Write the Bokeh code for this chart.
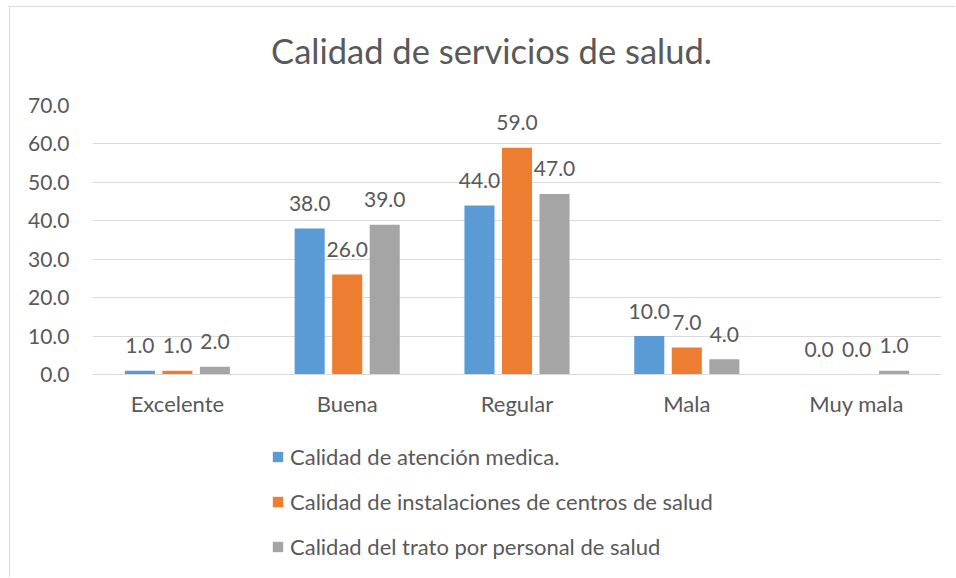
from bokeh.plotting import figure
from bokeh.layouts import column
from bokeh.models import (ColumnDataSource, FactorRange, Range1d, FixedTicker,
                          NumeralTickFormatter, Legend, LegendItem, Label)
from bokeh.transform import dodge
from bokeh.core.properties import value
from bokeh.embed import file_html
from bokeh.resources import INLINE

categories = ["Excelente", "Buena", "Regular", "Mala", "Muy mala"]
atencion = [1.0, 38.0, 44.0, 10.0, 0.0]
instalaciones = [1.0, 26.0, 59.0, 7.0, 0.0]
trato = [2.0, 39.0, 47.0, 4.0, 1.0]
series_names = ["Calidad de atención medica.",
                "Calidad de instalaciones de centros de salud",
                "Calidad del trato por personal de salud"]
colors = ["#5B9BD5", "#ED7D31", "#A5A5A5"]
y_ticks = [0, 10, 20, 30, 40, 50, 60, 70]
title_text = "Calidad de servicios de salud."

FONT = "Lato"
TXT = "#595959"
LBL_SIZE = "22px"
NUM_SIZE = "21px"
W = 945


def blank_fig(h, x_range, y_range):
    f = figure(width=W, height=h, x_range=x_range, y_range=y_range,
               output_backend="svg", toolbar_location=None,
               x_axis_location=None, y_axis_location=None,
               min_border_left=82, min_border_right=14, min_border_top=0, min_border_bottom=0)
    f.xgrid.visible = False
    f.ygrid.visible = False
    f.outline_line_color = None
    return f


sources = [ColumnDataSource(dict(cat=categories, val=vals, lbl=[f"{v:.1f}" for v in vals]))
           for vals in (atencion, instalaciones, trato)]

# ---- header with title ----
head = blank_fig(83, Range1d(0, 1), Range1d(0, 1))
head.add_layout(Label(x=399, y=40, x_units="screen", y_units="screen", text=title_text,
                      text_align="center", text_baseline="middle", text_font=FONT,
                      text_font_size="34.5px", text_color=TXT))

# ---- main chart ----
p = figure(x_range=FactorRange(*categories, range_padding=0),
           y_range=Range1d(0, 70),
           frame_width=849, frame_height=269,
           output_backend="svg", toolbar_location=None,
           min_border_left=82, min_border_right=14,
           min_border_top=15, min_border_bottom=50)
p.outline_line_color = None

offsets = [-0.221, 0.0, 0.221]
bar_w = 0.177
for src, col, off in zip(sources, colors, offsets):
    p.vbar(x=dodge("cat", off, range=p.x_range), top="val", width=bar_w, source=src,
           fill_color=col, line_color=None)
    p.text(x=dodge("cat", off, range=p.x_range), y="val", text="lbl", source=src,
           text_align="center", text_baseline="alphabetic", y_offset=-25,
           text_font=value(FONT), text_font_size=NUM_SIZE, text_color=TXT)

p.yaxis.ticker = FixedTicker(ticks=y_ticks)
p.yaxis.formatter = NumeralTickFormatter(format="0.0")
p.yaxis.axis_line_color = None
p.yaxis.major_tick_line_color = None
p.yaxis.minor_tick_line_color = None
p.yaxis.major_label_standoff = 17
p.yaxis.major_label_text_font = FONT
p.yaxis.major_label_text_font_size = NUM_SIZE
p.yaxis.major_label_text_color = TXT

p.xaxis.axis_line_color = "#D9D9D9"
p.xaxis.axis_line_width = 1
p.xaxis.major_tick_line_color = None
p.xaxis.minor_tick_line_color = None
p.xaxis.major_label_standoff = 9
p.xaxis.major_label_text_font = FONT
p.xaxis.major_label_text_font_size = LBL_SIZE
p.xaxis.major_label_text_color = TXT

p.xgrid.grid_line_color = None
p.ygrid.grid_line_color = "#D9D9D9"
p.ygrid.grid_line_width = 1

# ---- legend panel (bars kept outside its visible range; only the legend shows) ----
leg = blank_fig(153, FactorRange(*categories, range_padding=0), Range1d(100, 101))
items = []
for name, col, src in zip(series_names, colors, sources):
    r = leg.vbar(x="cat", top="val", width=bar_w, source=src, fill_color=col, line_color=None)
    items.append(LegendItem(label=name, renderers=[r]))
legend = Legend(items=items, location=(179, 17), orientation="vertical",
                padding=0, margin=0, spacing=18, label_height=27,
                glyph_height=13, glyph_width=13, label_standoff=6,
                border_line_color=None, background_fill_alpha=0,
                label_text_font=FONT, label_text_font_size=LBL_SIZE,
                label_text_color=TXT)
leg.add_layout(legend, "center")

layout = column(head, p, leg, spacing=0)
layout.margin = (6, 0, 0, 9)
layout.styles = {"border-left": "1px solid #D9D9D9", "border-top": "1px solid #D9D9D9"}

open("out.html", "w").write(file_html(layout, INLINE))
